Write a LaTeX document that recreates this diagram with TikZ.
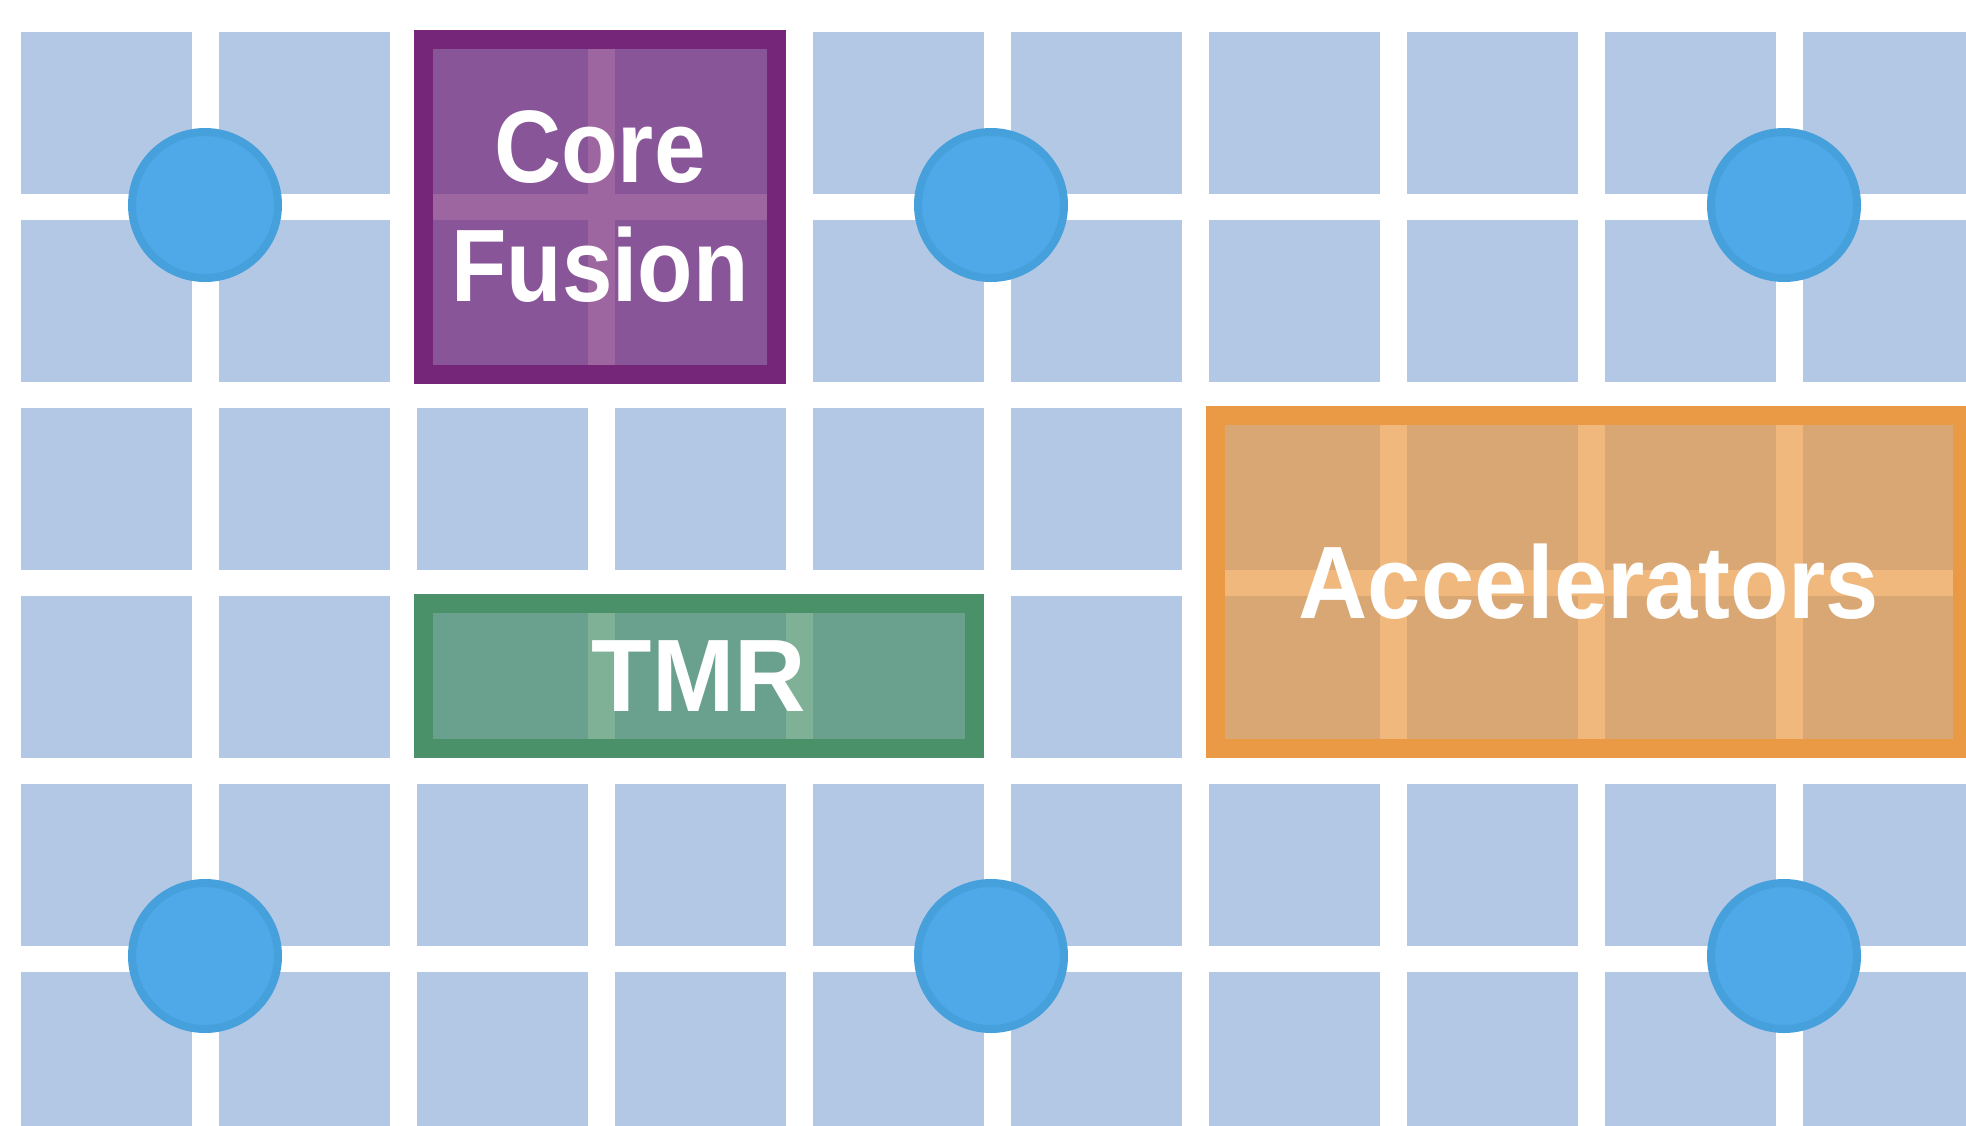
\documentclass[tikz,border=0pt]{standalone}
\usepackage{fontspec}
\setmainfont{Liberation Sans}
\usepackage{graphicx}
\usepackage{xcolor}
\definecolor{cTile}{HTML}{B3C8E4}
\definecolor{cHub}{HTML}{4FA9E8}
\definecolor{cHubEdge}{HTML}{45A0DC}
\definecolor{cFusion}{HTML}{762679}
\definecolor{cTMR}{HTML}{4A916A}
\definecolor{cAccel}{HTML}{EA9A45}
\usetikzlibrary{positioning}
\newcommand\blockfont{\fontsize{51.5}{59.5}\selectfont\bfseries}
\newcommand\narrow[2]{\scalebox{#1}[1]{#2}}
\tikzset{
  tile/.style={fill=cTile},
  hub/.style={circle,fill=cHub,draw=cHubEdge,line width=4pt,
    minimum size=73pt,inner sep=0pt},
  region/.style={rectangle,line width=9.5pt,fill opacity=0.7,
    text opacity=1,text=white,font=\blockfont,align=center,inner sep=0pt},
  region-fusion/.style={region,draw=cFusion,fill=cFusion},
  region-tmr/.style={region,draw=cTMR,fill=cTMR},
  region-accel/.style={region,draw=cAccel,fill=cAccel},
}

\begin{document}
\begin{tikzpicture}[x=0.5pt,y=-0.5pt]
  \fill[white] (0,0) rectangle (1966,1125);
  \clip (0,0) rectangle (1966,1125);
  % mesh of tiles
  \foreach \c in {0,...,9}
    \foreach \r in {0,...,5}
      \fill[tile] ({20.7+198*\c},{32.3+188*\r}) rectangle ++(171.3,161.3);
  % routers on the mesh
  \foreach \x [count=\k] in {205,991,1784} {
    \node[hub] (hub-top-\k) at (\x,205) {};
    \node[hub] (hub-bot-\k) at (\x,956) {};
  }
  \node[region-fusion,minimum width=176.5pt,minimum height=167.5pt]
    (fusion) at (600,207) {\narrow{0.9}{Core}\\\narrow{0.88}{Fusion}};
  \node[region-tmr,minimum width=275.5pt,minimum height=72.5pt]
    (tmr) at (699,676) {\narrow{0.96}{TMR}};
  \node[region-accel,minimum width=373.5pt,minimum height=166.5pt]
    (accel) at (1589,582) {\narrow{0.93}{Accelerators}};
\end{tikzpicture}
\end{document}
